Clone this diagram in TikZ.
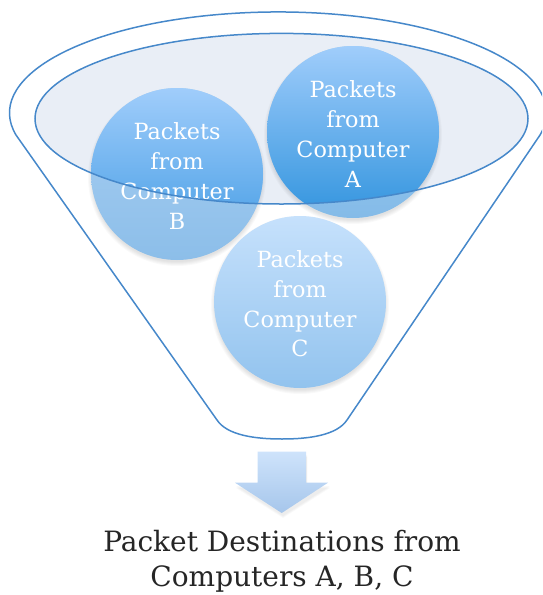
\documentclass[tikz,border=0pt]{standalone}
\usepackage{fontspec}
\setmainfont{DejaVu Serif}
\definecolor{lineblue}{RGB}{70,136,202}
\definecolor{glassfill}{RGB}{233,238,246}
\definecolor{aTop}{RGB}{160,205,251}
\definecolor{aBot}{RGB}{50,148,222}
\definecolor{aLTop}{RGB}{165,206,243}
\definecolor{aLBot}{RGB}{132,187,232}
\definecolor{bTop}{RGB}{160,205,251}
\definecolor{bBot}{RGB}{60,152,226}
\definecolor{bLTop}{RGB}{170,208,243}
\definecolor{bLBot}{RGB}{140,190,233}
\definecolor{cTop}{RGB}{198,225,252}
\definecolor{cBot}{RGB}{146,195,238}
\definecolor{arTop}{RGB}{206,227,251}
\definecolor{arBot}{RGB}{166,198,235}
\tikzset{
  outline/.style={draw=lineblue, line width=1.5pt},
  pkt/.style={text=white, align=center, inner sep=0pt, font=\fontsize{22.3}{29.7}\selectfont},
  dest/.style={text=black!85, align=center, inner sep=0pt, font=\fontsize{28}{35}\selectfont},
}
\begin{document}
\begin{tikzpicture}[x=1pt, y=-1pt]
\useasboundingbox (0,0) rectangle (542,595);
\clip (0,0) rectangle (542,595);
% funnel outline
\draw[outline, line join=round]
  (217,420) -- (16,135)
  arc[start angle=167.4, end angle=372.6, x radius=268.5, y radius=101]
  -- (347,420)
  .. controls (337,435) and (310,439) .. (282,439)
  .. controls (254,439) and (227,435) .. (217,420);
% glass ellipse fill
\fill[glassfill] (281.5,118.7) ellipse[x radius=246.5, y radius=85.3];
% shadows
\foreach \cx/\cy in {353/132, 177/174, 300/302} {
  \foreach \k in {1,...,5} {
    \fill[black, opacity=0.025] (\cx,\cy+3) circle[radius=84+\k];
  }
}
% circles, light version
\shade[top color=aLTop, bottom color=aLBot] (353,132) circle[radius=86];
\shade[top color=bLTop, bottom color=bLBot] (177,174) circle[radius=86];
\shade[top color=cTop, bottom color=cBot] (300,302) circle[radius=86];
% vivid parts inside the glass
\begin{scope}
  \clip (281.5,118.7) ellipse[x radius=246.5, y radius=85.3];
  \shade[top color=aTop, bottom color=aBot] (353,132) circle[radius=86];
  \shade[top color=bTop, bottom color=bBot] (177,174) circle[radius=86];
\end{scope}
% texts
\node[pkt] (a) at (353,134) {Packets\\from\\Computer\\A};
\node[pkt] (b) at (177,176) {Packets\\from\\Computer\\B};
\node[pkt] (c) at (300,304) {Packets\\from\\Computer\\C};
% glass ellipse outline
\draw[outline] (281.5,118.7) ellipse[x radius=246.5, y radius=85.3];
% arrow
\foreach \k in {1,2,3} {
  \fill[black, opacity=0.025] (259,454+\k) -- (307,454+\k) -- (307,485+\k) -- (330,485+\k) -- (283,515+\k) -- (236,485+\k) -- (259,485+\k) -- cycle;
}
\shade[top color=arTop, bottom color=arBot]
  (257.7,451.7) -- (306,451.7) -- (306,482.7) -- (328,482.7) -- (281.7,513) -- (235,482.7) -- (257.7,482.7) -- cycle;
% destination text
\node[dest, anchor=north] (dest) at (282,530.5) {Packet Destinations from\\Computers A, B, C};
\end{tikzpicture}
\end{document}
